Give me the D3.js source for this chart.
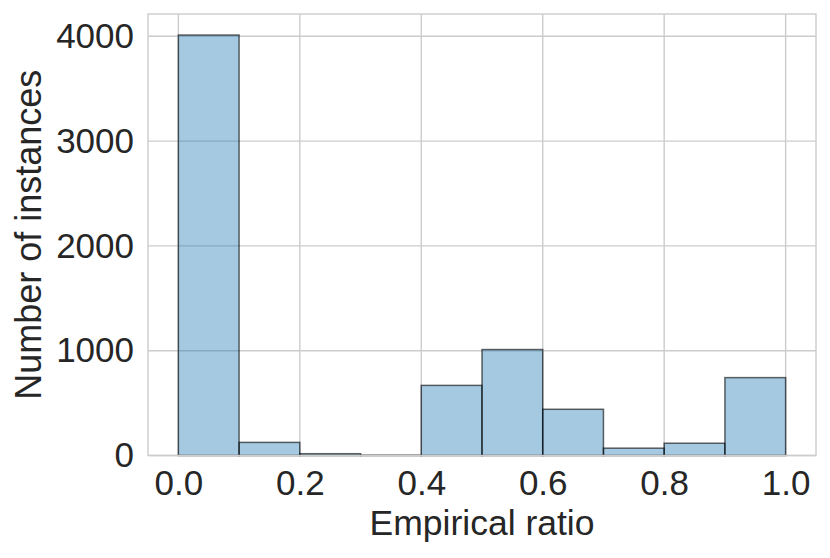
<!DOCTYPE html>
<html><head><meta charset="utf-8">
<script src="https://cdn.jsdelivr.net/npm/d3@7"></script>
<style>body{margin:0;background:#fff}text{font-family:Arial,"Liberation Sans",sans-serif;fill:#262626}</style>
</head><body><svg id="c" width="830" height="558"></svg>
<script>
const binEdges = [0.0,0.1,0.2,0.3,0.4,0.5,0.6,0.7,0.8,0.9,1.0];
const counts = [4012,125,17,3,669,1011,441,70,117,743];
const xTicks = [0.0,0.2,0.4,0.6,0.8,1.0];
const yTicks = [0,1000,2000,3000,4000];
const xLabel = "Empirical ratio";
const yLabel = "Number of instances";

const svg = d3.select("#c");
const L=148, R=816, T=14, B=455.5;
const x = d3.scaleLinear().domain([-0.05,1.05]).range([L,R]);
const yMax = d3.max(counts)*1.05;
const y = d3.scaleLinear().domain([0,yMax]).range([B,T]);

// grid
const g = svg.append("g");
g.selectAll(".vg").data(xTicks).enter().append("line")
  .attr("x1",d=>x(d)).attr("x2",d=>x(d)).attr("y1",T).attr("y2",B)
  .attr("stroke","#cccccc").attr("stroke-width",1.4);
g.selectAll(".hg").data(yTicks).enter().append("line")
  .attr("x1",L).attr("x2",R).attr("y1",d=>y(d)).attr("y2",d=>y(d))
  .attr("stroke","#cccccc").attr("stroke-width",1.4);

// bars
const bins = counts.map((c,i)=>({x0:binEdges[i],x1:binEdges[i+1],c}));
svg.append("g").selectAll("rect").data(bins).enter().append("rect")
  .attr("x",d=>x(d.x0)).attr("width",d=>x(d.x1)-x(d.x0))
  .attr("y",d=>y(d.c)).attr("height",d=>B-y(d.c))
  .attr("fill","#1f77b4").attr("fill-opacity",0.4)
  .attr("stroke","#000").attr("stroke-opacity",0.6).attr("stroke-width",1.5);

// spines
svg.append("rect").attr("x",L).attr("y",T).attr("width",R-L).attr("height",B-T)
  .attr("fill","none").attr("stroke","#cccccc").attr("stroke-width",1.4);

// axes
const xa = svg.append("g").attr("transform",`translate(0,${B})`)
  .call(d3.axisBottom(x).tickValues(xTicks).tickFormat(d3.format(".1f")).tickSize(0).tickPadding(14));
xa.select(".domain").remove();
xa.selectAll("text").attr("font-size",35).attr("fill","#262626").attr("dy","0.71em").attr("y",15);

const ya = svg.append("g").attr("transform",`translate(${L},0)`)
  .call(d3.axisLeft(y).tickValues(yTicks).tickFormat(d3.format("d")).tickSize(0).tickPadding(14));
ya.select(".domain").remove();
ya.selectAll("text").attr("font-size",35).attr("fill","#262626");

svg.append("text").attr("x",(L+R)/2).attr("y",535).attr("text-anchor","middle")
  .attr("font-size",35.5).text(xLabel);
svg.append("text").attr("transform",`translate(41,${(T+B)/2}) rotate(-90)`)
  .attr("text-anchor","middle").attr("font-size",36).text(yLabel);
</script></body></html>
